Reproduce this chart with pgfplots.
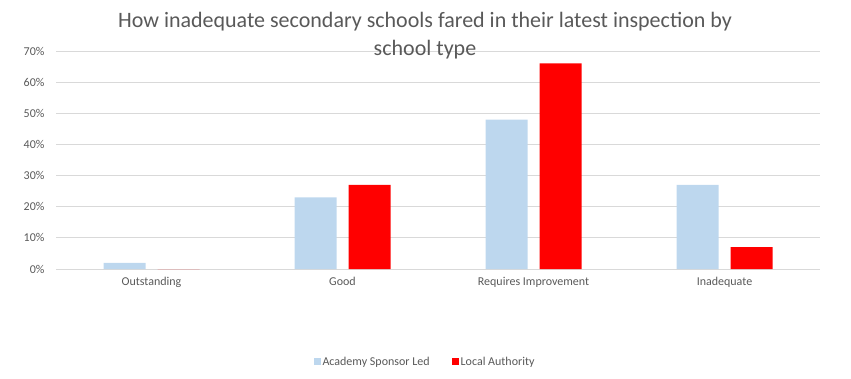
\documentclass[border=0pt]{standalone}
\usepackage{fontspec}
\setmainfont{Carlito}
\usepackage{pgfplots}
\pgfplotsset{compat=1.18}
\definecolor{asl}{HTML}{BDD7EE}
\definecolor{la}{HTML}{FF0000}
\definecolor{gridc}{HTML}{D9D9D9}
\definecolor{txt}{HTML}{595959}
\begin{document}
\begin{tikzpicture}[x=1pt,y=1pt]
\useasboundingbox (0,0) rectangle (851,378);
\begin{axis}[
 at={(56pt,109pt)}, anchor=south west,
 scale only axis, width=764pt, height=218pt,
 ybar=12pt, bar width=42pt,
 xmin=-0.5, xmax=3.5, ymin=0, ymax=70,
 xtick={0,1,2,3},
 xticklabels={Outstanding,Good,Requires Improvement,Inadequate},
 ytick={0,10,...,70},
 yticklabel={\pgfmathprintnumber{\tick}\%},
 /pgf/number format/assume math mode=true,
 ymajorgrids, major grid style={draw=gridc, line width=0.75pt},
 axis x line*=bottom, axis y line*=left,
 x axis line style={draw=gridc, line width=0.75pt, -},
 y axis line style={draw=none},
 major tick length=0pt,
 tick style={draw=none},
 ticklabel style={font=\fontsize{12}{14}\selectfont, text=txt},
 yticklabel style={xshift=-8pt},
 xticklabel style={yshift=-5pt},
 legend style={at={(0.483,-0.4266)}, anchor=center, draw=none,
   legend columns=2, font=\fontsize{12}{14}\selectfont, text=txt,
   /tikz/every even column/.append style={column sep=20pt}},
 legend image code/.code={\fill[#1] (0pt,-3.5pt) rectangle (7pt,3.5pt);},
]
\addplot[fill=asl, draw=none] coordinates {(0,2) (1,23) (2,48) (3,27)};
\addplot[fill=la, draw=none] coordinates {(0,0) (1,27) (2,66) (3,7)};
\legend{Academy Sponsor Led, Local Authority}
\end{axis}
\node[font=\fontsize{22}{28}\selectfont, text=txt, align=center] at (425,342)
 {How inadequate secondary schools fared in their latest inspection by\\school type};
\end{tikzpicture}
\end{document}
